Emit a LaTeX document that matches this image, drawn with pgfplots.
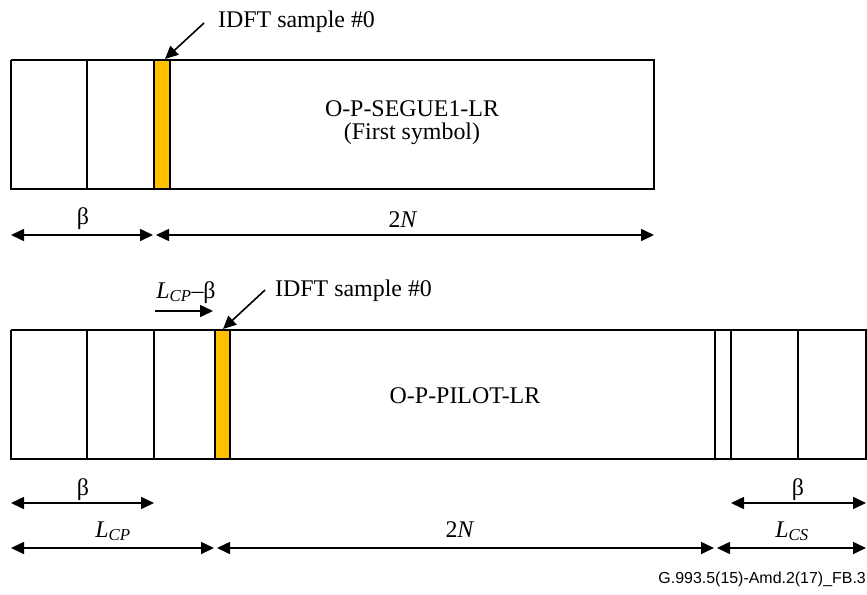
\documentclass[border=0pt]{standalone}
\usepackage{pgfplots}
\pgfplotsset{compat=1.18}
\usepackage{fontspec}
\setmainfont{Liberation Serif}
\newfontfamily\arial{Liberation Sans}
\usetikzlibrary{arrows.meta}
\definecolor{idft}{HTML}{FFC000}
\tikzset{lbl/.style={anchor=base, inner sep=0pt, font=\fontsize{24}{28}\selectfont}}

\begin{document}
\begin{tikzpicture}
\begin{axis}[
  width=867bp, height=595bp, scale only axis,
  xmin=0, xmax=867, ymin=0, ymax=595, y dir=reverse,
  axis lines=box, axis line style={draw=none}, ticks=none,
  clip=false,
  cycle list={{black, solid}},
  every axis plot/.append style={line width=1.6bp, no markers},
  >={Triangle[length=13bp,width=12bp]},
]
% first symbol frame
\addplot[fill=white] coordinates {(11,60) (654,60) (654,189) (11,189) (11,60)};
\addplot coordinates {(87,60) (87,189)};
\addplot[fill=idft] coordinates {(154,60) (170,60) (170,189) (154,189) (154,60)};

% pilot frame
\addplot[fill=white] coordinates {(11,330) (866,330) (866,459) (11,459) (11,330)};
\addplot coordinates {(87,330) (87,459)};
\addplot coordinates {(154,330) (154,459)};
\addplot coordinates {(715,330) (715,459)};
\addplot coordinates {(731,330) (731,459)};
\addplot coordinates {(798,330) (798,459)};
\addplot[fill=idft] coordinates {(215,330) (230,330) (230,459) (215,459) (215,330)};

% arrows, top
\addplot[<->] coordinates {(11,235) (153,235)};
\addplot[<->] coordinates {(156,235) (654,235)};
\addplot[->] coordinates {(204,23) (165,59)};

% arrows, bottom
\addplot[->] coordinates {(155,311) (213,311)};
\addplot[->] coordinates {(265,290) (223,329)};
\addplot[<->] coordinates {(11,503) (154,503)};
\addplot[<->] coordinates {(11,548) (214,548)};
\addplot[<->] coordinates {(217,548) (714,548)};
\addplot[<->] coordinates {(731,503) (866,503)};
\addplot[<->] coordinates {(717,548) (866,548)};

% labels
\node[lbl, anchor=base west] at (axis cs:218,28) {IDFT sample \#0};
\node[lbl] at (axis cs:412,116) {O-P-SEGUE1-LR};
\node[lbl] at (axis cs:412,139) {(First symbol)};
\node[lbl] at (axis cs:83,224) {β};
\node[lbl] at (axis cs:403,227) {2\textit{N}};

\node[lbl] at (axis cs:186,298) {\textit{L}\textsubscript{\textit{CP}}–β};
\node[lbl, anchor=base west] at (axis cs:275,296) {IDFT sample \#0};
\node[lbl] at (axis cs:465,403) {O-P-PILOT-LR};
\node[lbl] at (axis cs:83,495) {β};
\node[lbl] at (axis cs:113,537) {\textit{L}\textsubscript{\textit{CP}}};
\node[lbl] at (axis cs:460,537) {2\textit{N}};
\node[lbl] at (axis cs:798,495) {β};
\node[lbl] at (axis cs:792,537) {\textit{L}\textsubscript{\textit{CS}}};

\node[anchor=base east, inner sep=0pt, font=\arial\fontsize{16}{18}\selectfont] at (axis cs:866,583) {G.993.5(15)-Amd.2(17)\_FB.3};
\end{axis}
\end{tikzpicture}
\end{document}
